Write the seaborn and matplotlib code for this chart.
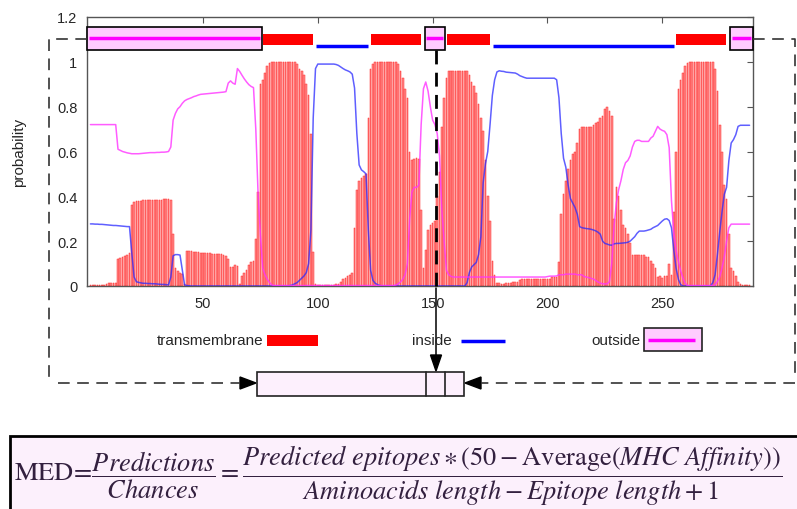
import matplotlib
matplotlib.use("Agg")
import matplotlib.pyplot as plt
import seaborn as sns
from matplotlib.patches import Rectangle, Polygon


# =========================
# Data: TMHMM posterior probabilities per residue (1..288)
# =========================
residues = list(range(1, 289))

tm_prob = [
    0.005, 0.005, 0.005, 0.005, 0.005, 0.005, 0.005, 0.010, 0.012, 0.015,
    0.015, 0.012, 0.120, 0.125, 0.130, 0.135, 0.140, 0.145, 0.360, 0.375,
    0.380, 0.380, 0.380, 0.382, 0.383, 0.384, 0.385, 0.385, 0.385, 0.385,
    0.385, 0.385, 0.386, 0.386, 0.386, 0.385, 0.230, 0.080, 0.065, 0.060,
    0.055, 0.010, 0.157, 0.156, 0.155, 0.153, 0.152, 0.150, 0.148, 0.147,
    0.146, 0.145, 0.145, 0.144, 0.143, 0.143, 0.142, 0.142, 0.140, 0.135,
    0.120, 0.083, 0.083, 0.095, 0.090, 0.010, 0.045, 0.060, 0.070, 0.095,
    0.105, 0.110, 0.210, 0.420, 0.900, 0.920, 0.950, 0.980, 0.995, 1.000,
    1.000, 1.000, 1.000, 1.000, 1.000, 1.000, 1.000, 1.000, 1.000, 1.000,
    0.990, 0.970, 0.960, 0.940, 0.900, 0.850, 0.680, 0.150, 0.010, 0.005,
    0.005, 0.005, 0.005, 0.005, 0.005, 0.005, 0.005, 0.008, 0.010, 0.020,
    0.030, 0.035, 0.045, 0.050, 0.060, 0.260, 0.430, 0.470, 0.480, 0.490,
    0.500, 0.750, 0.970, 0.990, 1.000, 1.000, 1.000, 1.000, 1.000, 1.000,
    1.000, 1.000, 1.000, 1.000, 0.990, 0.960, 0.930, 0.880, 0.840, 0.600,
    0.560, 0.565, 0.570, 0.565, 0.340, 0.080, 0.160, 0.250, 0.270, 0.280,
    0.290, 0.400, 0.510, 0.710, 0.840, 0.930, 0.960, 0.960, 0.960, 0.960,
    0.960, 0.960, 0.960, 0.960, 0.960, 0.940, 0.910, 0.890, 0.860, 0.810,
    0.750, 0.690, 0.560, 0.400, 0.290, 0.110, 0.050, 0.015, 0.012, 0.010,
    0.010, 0.012, 0.015, 0.015, 0.018, 0.020, 0.020, 0.025, 0.030, 0.030,
    0.030, 0.030, 0.030, 0.030, 0.030, 0.030, 0.030, 0.030, 0.030, 0.030,
    0.030, 0.040, 0.040, 0.040, 0.105, 0.320, 0.410, 0.470, 0.520, 0.560,
    0.590, 0.600, 0.640, 0.700, 0.710, 0.710, 0.710, 0.710, 0.710, 0.720,
    0.725, 0.730, 0.750, 0.760, 0.790, 0.800, 0.780, 0.760, 0.300, 0.440,
    0.400, 0.340, 0.270, 0.260, 0.230, 0.190, 0.140, 0.140, 0.140, 0.140,
    0.140, 0.140, 0.130, 0.128, 0.113, 0.098, 0.080, 0.042, 0.045, 0.035,
    0.045, 0.045, 0.100, 0.050, 0.330, 0.600, 0.880, 0.920, 0.950, 0.980,
    0.995, 1.000, 1.000, 1.000, 1.000, 1.000, 1.000, 1.000, 1.000, 1.000,
    1.000, 1.000, 0.970, 0.870, 0.720, 0.600, 0.450, 0.390, 0.230, 0.080,
    0.065, 0.045, 0.020, 0.010, 0.005, 0.005, 0.005, 0.005,
]

inside_prob = [
    0.277, 0.277, 0.276, 0.276, 0.275, 0.275, 0.274, 0.273, 0.272, 0.271,
    0.270, 0.270, 0.269, 0.268, 0.267, 0.266, 0.265, 0.265, 0.147, 0.040,
    0.019, 0.016, 0.014, 0.012, 0.012, 0.011, 0.011, 0.010, 0.010, 0.009,
    0.008, 0.007, 0.007, 0.006, 0.005, 0.040, 0.135, 0.140, 0.140, 0.138,
    0.070, 0.005, 0.002, 0.001, 0.000, 0.000, 0.000, 0.000, 0.000, 0.000,
    0.000, 0.000, 0.000, 0.000, 0.000, 0.000, 0.000, 0.000, 0.000, 0.000,
    0.000, 0.000, 0.000, 0.000, 0.000, 0.000, 0.000, 0.000, 0.000, 0.000,
    0.000, 0.000, 0.000, 0.000, 0.000, 0.000, 0.000, 0.000, 0.000, 0.000,
    0.000, 0.000, 0.000, 0.000, 0.000, 0.000, 0.000, 0.002, 0.005, 0.010,
    0.015, 0.025, 0.035, 0.045, 0.060, 0.100, 0.250, 0.750, 0.970, 0.990,
    0.990, 0.990, 0.990, 0.990, 0.990, 0.990, 0.990, 0.988, 0.984, 0.977,
    0.970, 0.964, 0.960, 0.955, 0.945, 0.883, 0.680, 0.540, 0.518, 0.510,
    0.500, 0.250, 0.070, 0.025, 0.012, 0.006, 0.002, 0.000, 0.000, 0.000,
    0.000, 0.000, 0.000, 0.000, 0.000, 0.000, 0.000, 0.000, 0.000, 0.000,
    0.000, 0.000, 0.000, 0.000, 0.000, 0.000, 0.000, 0.000, 0.000, 0.000,
    0.000, 0.000, 0.000, 0.000, 0.000, 0.000, 0.000, 0.000, 0.000, 0.000,
    0.000, 0.000, 0.000, 0.000, 0.015, 0.060, 0.085, 0.095, 0.105, 0.140,
    0.220, 0.460, 0.545, 0.600, 0.720, 0.850, 0.920, 0.955, 0.960, 0.958,
    0.957, 0.954, 0.953, 0.952, 0.951, 0.950, 0.945, 0.938, 0.934, 0.930,
    0.927, 0.927, 0.927, 0.927, 0.927, 0.927, 0.927, 0.927, 0.927, 0.927,
    0.927, 0.927, 0.927, 0.920, 0.840, 0.680, 0.570, 0.530, 0.450, 0.390,
    0.370, 0.350, 0.320, 0.265, 0.260, 0.258, 0.256, 0.255, 0.253, 0.250,
    0.246, 0.240, 0.231, 0.200, 0.190, 0.187, 0.183, 0.182, 0.188, 0.190,
    0.190, 0.191, 0.192, 0.193, 0.195, 0.200, 0.210, 0.220, 0.235, 0.245,
    0.245, 0.245, 0.247, 0.250, 0.253, 0.260, 0.265, 0.270, 0.280, 0.290,
    0.298, 0.300, 0.292, 0.260, 0.160, 0.080, 0.030, 0.006, 0.000, 0.000,
    0.000, 0.000, 0.000, 0.000, 0.000, 0.000, 0.000, 0.000, 0.000, 0.000,
    0.000, 0.015, 0.050, 0.140, 0.240, 0.330, 0.409, 0.440, 0.560, 0.638,
    0.653, 0.675, 0.712, 0.717, 0.717, 0.717, 0.717, 0.717,
]

outside_prob = [
    0.720, 0.720, 0.720, 0.720, 0.720, 0.720, 0.720, 0.720, 0.720, 0.720,
    0.720, 0.720, 0.610, 0.605, 0.600, 0.597, 0.594, 0.592, 0.590, 0.590,
    0.590, 0.590, 0.591, 0.592, 0.593, 0.594, 0.595, 0.595, 0.595, 0.596,
    0.596, 0.597, 0.597, 0.598, 0.600, 0.620, 0.740, 0.770, 0.790, 0.800,
    0.815, 0.826, 0.832, 0.836, 0.840, 0.845, 0.848, 0.852, 0.855, 0.856,
    0.857, 0.858, 0.859, 0.860, 0.861, 0.862, 0.863, 0.864, 0.865, 0.867,
    0.905, 0.915, 0.905, 0.900, 0.970, 0.957, 0.940, 0.924, 0.910, 0.898,
    0.890, 0.885, 0.700, 0.410, 0.230, 0.080, 0.050, 0.030, 0.015, 0.005,
    0.002, 0.002, 0.002, 0.002, 0.002, 0.002, 0.002, 0.002, 0.002, 0.002,
    0.002, 0.002, 0.002, 0.002, 0.002, 0.002, 0.002, 0.002, 0.002, 0.002,
    0.002, 0.002, 0.002, 0.002, 0.002, 0.002, 0.002, 0.002, 0.002, 0.002,
    0.002, 0.002, 0.002, 0.002, 0.002, 0.002, 0.002, 0.002, 0.002, 0.002,
    0.002, 0.002, 0.002, 0.002, 0.002, 0.002, 0.002, 0.002, 0.002, 0.002,
    0.002, 0.002, 0.002, 0.005, 0.010, 0.018, 0.030, 0.050, 0.100, 0.300,
    0.420, 0.440, 0.440, 0.450, 0.720, 0.880, 0.910, 0.870, 0.800, 0.740,
    0.720, 0.680, 0.580, 0.340, 0.200, 0.070, 0.050, 0.043, 0.040, 0.040,
    0.040, 0.040, 0.040, 0.040, 0.040, 0.040, 0.040, 0.040, 0.040, 0.040,
    0.040, 0.040, 0.040, 0.040, 0.040, 0.040, 0.040, 0.040, 0.040, 0.040,
    0.040, 0.040, 0.040, 0.040, 0.040, 0.040, 0.040, 0.040, 0.040, 0.040,
    0.040, 0.040, 0.040, 0.040, 0.040, 0.040, 0.040, 0.040, 0.040, 0.042,
    0.044, 0.044, 0.044, 0.045, 0.050, 0.050, 0.050, 0.053, 0.053, 0.053,
    0.053, 0.053, 0.050, 0.050, 0.050, 0.042, 0.040, 0.037, 0.034, 0.031,
    0.025, 0.018, 0.013, 0.010, 0.009, 0.010, 0.020, 0.100, 0.270, 0.370,
    0.430, 0.470, 0.520, 0.550, 0.560, 0.580, 0.620, 0.645, 0.650, 0.650,
    0.645, 0.645, 0.645, 0.645, 0.660, 0.668, 0.690, 0.712, 0.700, 0.694,
    0.690, 0.675, 0.617, 0.380, 0.240, 0.160, 0.110, 0.068, 0.035, 0.012,
    0.002, 0.002, 0.002, 0.002, 0.002, 0.002, 0.002, 0.002, 0.002, 0.002,
    0.002, 0.002, 0.005, 0.020, 0.040, 0.080, 0.130, 0.200, 0.260, 0.276,
    0.276, 0.276, 0.276, 0.276, 0.276, 0.276, 0.276, 0.276,
]

# predicted topology (segment type, first residue, last residue)
topology = [
    ("outside", 0, 75), ("tm", 76, 98), ("inside", 99, 122), ("tm", 123, 145),
    ("outside", 147, 155), ("tm", 156, 175), ("inside", 176, 255),
    ("tm", 256, 278), ("outside", 280, 289),
]

epitope_pos = 151.5
y_ticks = [0, 0.2, 0.4, 0.6, 0.8, 1.0, 1.2]
y_tick_labels = ["0", "0.2", "0.4", "0.6", "0.8", "1", "1.2"]
x_ticks = [50, 100, 150, 200, 250]

assert len(tm_prob) == len(inside_prob) == len(outside_prob) == 288

# =========================
# Style
# =========================
sns.set_style("white")
plt.rcParams["font.family"] = ["Liberation Sans", "DejaVu Sans"]
plt.rcParams["mathtext.fontset"] = "stix"

W, H = 797, 510
fig = plt.figure(figsize=(W / 100, H / 100), dpi=100)
ax = fig.add_axes([87 / W, 1 - 287 / H, 666 / W, 269 / H])

# =========================
# Profile plot
# =========================
sns.barplot(x=residues, y=tm_prob, native_scale=True, color="#ff8a8a",
            saturation=1, edgecolor="#ff2a2a", linewidth=0.35, width=0.72,
            errorbar=None, ax=ax, zorder=2)
sns.lineplot(x=residues, y=inside_prob, color="#2a2aff", alpha=0.75,
             linewidth=1.1, ax=ax, zorder=3)
sns.lineplot(x=residues, y=outside_prob, color="#ff33ff", alpha=0.8,
             linewidth=1.1, ax=ax, zorder=3)

ax.set_xlim(-0.5, 289.5)
ax.set_ylim(0, 1.2)
ax.set_xticks(x_ticks)
ax.set_xticklabels([str(t) for t in x_ticks])
ax.set_yticks(y_ticks)
ax.set_yticklabels(y_tick_labels)
ax.tick_params(direction="in", top=True, right=True, length=4, width=0.8,
               color="#555555", labelsize=10.5, pad=7)
ax.set_xlabel("")
ax.set_ylabel("probability", fontsize=11)
ax.yaxis.set_label_coords(-0.092, 0.5)
for sp in ax.spines.values():
    sp.set_color("#555555")
    sp.set_linewidth(1.0)

# topology band at the top
for kind, start, end in topology:
    x0, x1 = start - 0.5, end + 0.5
    if kind == "outside":
        ax.add_patch(Rectangle((x0, 1.053), x1 - x0, 0.103, facecolor="#ffccff",
                               edgecolor="black", linewidth=1.2, clip_on=False, zorder=6))
        ax.plot([x0 + 0.8, x1 - 0.8], [1.105, 1.105], color="#ff00ff", lw=2.5,
                clip_on=False, zorder=7, solid_capstyle="butt")
    elif kind == "tm":
        ax.add_patch(Rectangle((x0 + 0.6, 1.077), x1 - x0 - 1.2, 0.047,
                               facecolor="#ff0000", edgecolor="none", clip_on=False, zorder=5))
    else:
        ax.plot([x0 + 0.6, x1 - 0.6], [1.071, 1.071], color="#0000ff", lw=2.5,
                clip_on=False, zorder=5, solid_capstyle="butt")

# epitope marker (dashed line through the profile)
ax.plot([epitope_pos, epitope_pos], [1.053, 0.0], color="black", lw=2,
        dashes=(5, 3), zorder=8, clip_on=False)

# =========================
# Annotation overlay in pixel space
# =========================
ov = fig.add_axes([0, 0, 1, 1], zorder=10)
ov.set_xlim(0, W)
ov.set_ylim(H, 0)
ov.axis("off")
ov.patch.set_alpha(0)

dash_kw = dict(color="#333333", lw=1.2, dashes=(7, 4.5))
ov.plot([87, 49, 49], [40, 40, 380], **dash_kw)
ov.plot([58, 240], [384, 384], **dash_kw)
ov.plot([753, 795, 795], [40, 40, 380], **dash_kw)
ov.plot([795, 481], [384, 384], **dash_kw)

# arrow heads pointing at the sequence box
ov.add_patch(Polygon([[240, 378], [240, 390], [256, 384]], closed=True, color="black"))
ov.add_patch(Polygon([[481, 378], [481, 390], [465, 384]], closed=True, color="black"))

# sequence box with the epitope window
ov.add_patch(Rectangle((257, 373), 207, 23.5, facecolor="#fdf0fd", edgecolor="#222222", lw=1.2))
ov.plot([426, 426], [373, 396.5], color="#222222", lw=1.2)
ov.plot([445, 445], [373, 396.5], color="#222222", lw=1.2)

# arrow from profile to window
ov.plot([436, 436], [289, 358], color="black", lw=1.1)
ov.add_patch(Polygon([[430.5, 356], [441.5, 356], [436, 372]], closed=True, color="black"))

# legend
ov.text(263, 341, "transmembrane", ha="right", va="center", fontsize=11)
ov.add_patch(Rectangle((267, 336), 51, 11, facecolor="#ff0000", edgecolor="none"))
ov.text(452, 341, "inside", ha="right", va="center", fontsize=11)
ov.plot([461, 505], [342, 342], color="#0000ff", lw=2.5, solid_capstyle="butt")
ov.text(641, 341, "outside", ha="right", va="center", fontsize=11)
ov.add_patch(Rectangle((644, 329), 58, 23, facecolor="#ffccff", edgecolor="#222222", lw=1.2))
ov.plot([648, 695], [341, 341], color="#ff00ff", lw=2.5, solid_capstyle="butt")

# MED formula
ov.add_patch(Rectangle((10, 437), 800, 80, facecolor="#fcf0fc", edgecolor="black",
                       lw=2, clip_on=False))
formula = (r"$\mathrm{MED}\!=\!\dfrac{Predictions}{Chances}="
           r"\dfrac{Predicted\ epitopes\ast(50-\mathrm{Average}(MHC\ Affinity))}"
           r"{Aminoacids\ length-Epitope\ length+1}$")
ov.text(14, 476, formula, ha="left", va="center", fontsize=19, color="#33203f")

fig.savefig("out.png", dpi=100)
